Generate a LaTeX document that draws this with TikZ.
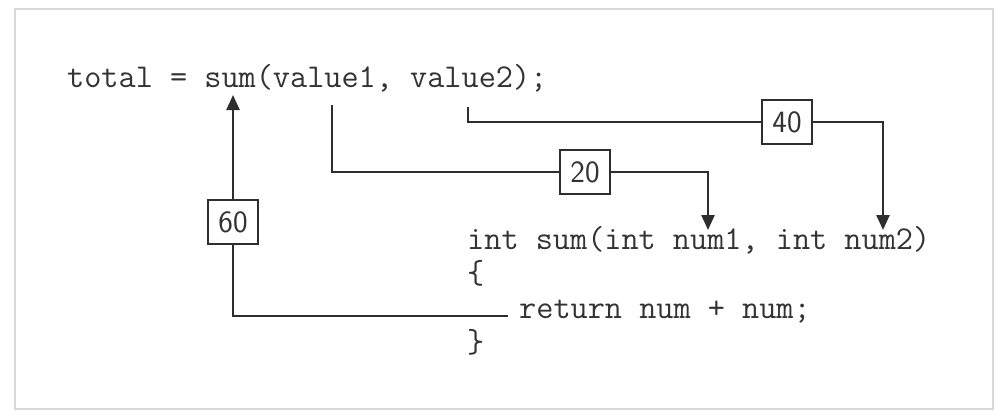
\documentclass[tikz,border=0pt]{standalone}
\usetikzlibrary{arrows.meta}
\definecolor{ink}{HTML}{2E2E2E}
\definecolor{txt}{HTML}{333333}
\begin{document}
\begin{tikzpicture}[x=1pt,y=-1pt,
  code/.style={anchor=base west,inner sep=0pt,text=txt,font=\ttfamily\fontsize{33.3}{38}\selectfont},
  valbox/.style={draw=ink,line width=2pt,minimum width=50pt,minimum height=44pt,inner sep=0pt,text=txt,font=\sffamily\fontsize{31}{34}\selectfont},
  wire/.style={draw=ink,line width=2.4pt},
  tip/.style={-{Triangle[length=15pt,width=13pt]}}]
\useasboundingbox (0,0) rectangle (996,413);
\fill[white] (0,0) rectangle (996,413);
\draw[gray!30,line width=2pt] (15,9) rectangle (993,409);
% code
\node[code] (call) at (67,87) {total = sum(value1, value2);};
\node[code] (head) at (467,249) {int sum(int num1, int num2)};
\node[code] (open) at (467,283) {\{};
\node[code] (ret) at (519,318) {return num + num;};
\node[code] (close) at (467,352) {\}};
% boxes
\node[valbox] (b60) at (233,222) {60};
\node[valbox] (b20) at (585,172) {20};
\node[valbox] (b40) at (787,122) {40};
% coordinates
\coordinate (sumtip) at (233,95);
\coordinate (retend) at (508,316);
\coordinate (v1) at (332,105);
\coordinate (v2) at (468,107);
\coordinate (n1) at (708,230);
\coordinate (n2) at (883,230);
% wires
\draw[wire] (retend) -| (b60.south);
\draw[wire,tip] (b60.north) -- (sumtip);
\draw[wire] (v1) |- (b20.west);
\draw[wire,tip] (b20.east) -| (n1);
\draw[wire] (v2) |- (b40.west);
\draw[wire,tip] (b40.east) -| (n2);
\end{tikzpicture}
\end{document}
